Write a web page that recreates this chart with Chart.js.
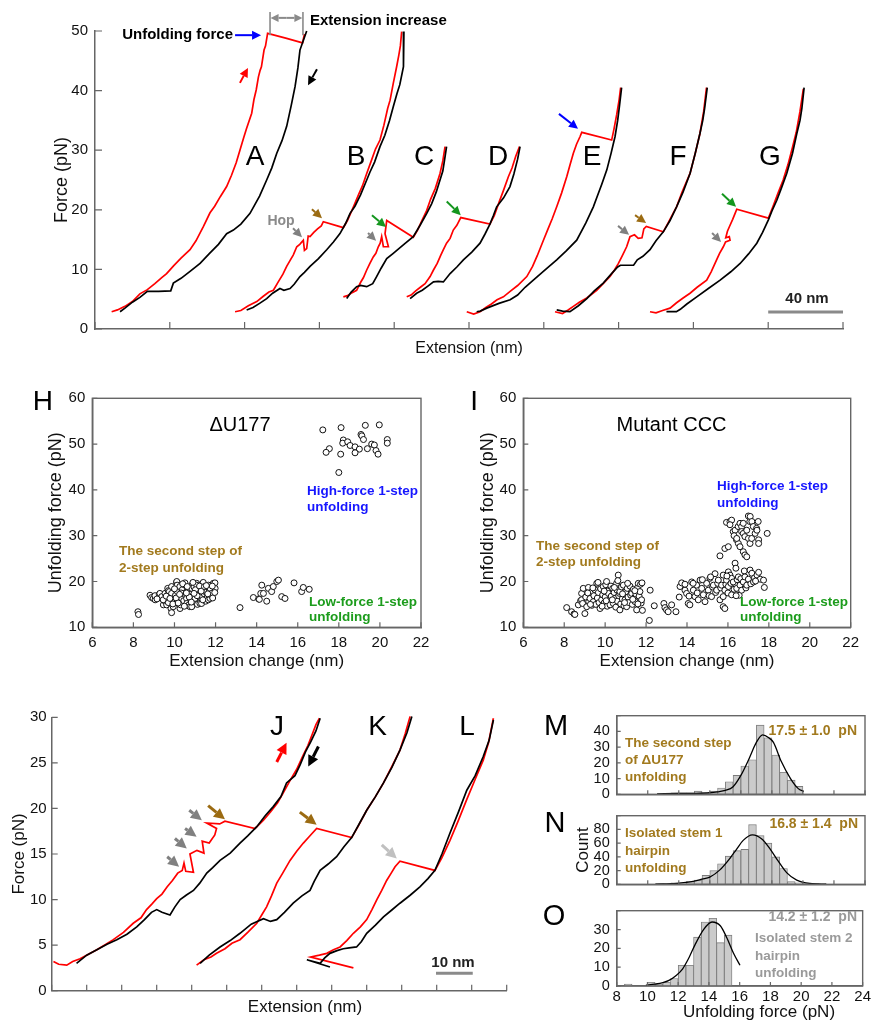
<!DOCTYPE html>
<html>
<head>
<meta charset="utf-8">
<script src="https://cdn.jsdelivr.net/npm/chart.js@4.4.1/dist/chart.umd.min.js"></script>
<style>
  body { margin: 0; background: #fff; width: 873px; height: 1024px; position: relative; overflow: hidden; }
  canvas { position: absolute; }
</style>
</head>
<body>
<canvas id="cTop" style="left:0;top:0" width="873" height="365"></canvas>
<canvas id="cH" style="left:0;top:380px" width="440" height="300"></canvas>
<canvas id="cI" style="left:440px;top:380px" width="433" height="300"></canvas>
<canvas id="cJ" style="left:0;top:700px" width="530" height="324"></canvas>
<canvas id="cM" style="left:530px;top:700px" width="343" height="110"></canvas>
<canvas id="cN" style="left:530px;top:800px" width="343" height="100"></canvas>
<canvas id="cO" style="left:530px;top:895px" width="343" height="129"></canvas>
<script>
// ---- force-extension traces, top panel (extension nm, force pN) ----
const redA = [[8.9,2.9],[12,3.2],[16,3.8],[20,4.6],[24,5.9],[28,6.6],[32,7.6],[36,8.7],[38.3,9.3],[42,10.6],[46,11.9],[50.8,13.3],[54,14.8],[58,17.2],[61.5,19.5],[64,20.6],[67,22.2],[70.4,23.9],[73,25.8],[75.5,27.9],[77.5,30.0],[79.5,32.1],[81,33.6],[83.8,36.2],[85,38.5],[86.2,40.1],[87.4,42.3],[88.3,43.4],[89,44.0],[90.4,46.8],[91.2,47.5],[92.3,49.6],[102,48.8],[111,48.0],[112,49.5]];
const blackA = [[113.2,50],[111.5,48.5],[109.6,46.8],[108.5,43.8],[107,40.7],[105,37.6],[102.5,34],[100,31.6],[97.2,29.5],[94.5,27],[91.8,25],[88,22.3],[82.9,19.4],[78,17.6],[74,16.6],[70.4,16.0],[66,14.2],[61,12.6],[56.2,11.0],[51,9.7],[46,8.5],[41.9,7.7],[40.5,6.4],[34,6.3],[28,6.3],[24,5.3],[20,4.5],[16,3.5],[13.4,2.9]];
const redB = [[74.9,2.9],[78,3.1],[82,3.9],[86.5,4.6],[90,5.5],[93,6.2],[95.4,6.5],[98,7.9],[100.5,9.2],[102.5,10.5],[104.5,11.6],[106,12.4],[107.9,13.8],[109.5,14.2],[111.4,14.9],[112,13.2],[113.2,13.5],[114,15.6],[115,15.5],[117,16.2],[119,16.8],[121,17.3],[122.1,18.0],[132.8,17.0],[135,18.2],[138.2,20.5],[141,22.6],[143,24.0],[145.3,26.1],[147.5,28],[150,30.2],[152.4,31.7],[154.5,34.2],[156.5,37],[157.8,38.4],[159.5,41.2],[161.3,44.0],[162.5,46],[163.3,47.5],[164,49.9]];
const blackB = [[165.2,49.9],[165,47.5],[164.9,44],[163,41],[161.5,39.5],[159.5,37.3],[157.5,35],[155,32.5],[152.4,30.6],[149.5,28.0],[147,26.3],[145.3,25.0],[142,22.5],[139,20.6],[136.4,19.4],[134,17.7],[131,16.0],[127.5,14.6],[123.9,13.3],[119.5,11.8],[115,10.5],[112,9.5],[109.6,8.8],[106.5,7.5],[104.3,6.8],[101,6.5],[98.9,6.8],[95,6.0],[91.8,5.1],[88,4.3],[84.5,3.6],[81.1,3.2]];
const redC = [[132.8,5.4],[135,5.6],[137.5,6.1],[139.9,6.5],[142,7.8],[143.5,8.6],[145.3,9.9],[147,11.0],[148.8,12.1],[150.2,12.7],[151.5,13.8],[152.5,14.4],[153.3,15.5],[154.2,13.8],[156.9,13.8],[155.1,16.0],[156,18.2],[170.2,15.4],[172.5,16.6],[175,18.3],[177.4,19.9],[179.5,21.8],[182,23.6],[184.5,26.1],[186,28.2],[187.2,30.6]];
const blackC = [[188,30.6],[187,28.5],[186,26.5],[184.5,25],[182.5,23],[180,21],[177.4,19.4],[174,17.5],[170.2,15.5],[166,14.4],[162.5,13.5],[159.5,12.7],[156,11.8],[153,10.2],[150.6,8.8],[148.5,7.6],[145.3,7.1],[142,7.3],[139.9,7.1],[137,6.2],[134.6,5.1]];
const redD = [[166.7,5.4],[169,5.7],[171.5,6.4],[174,7.0],[176.5,7.6],[179.2,8.8],[181,9.9],[183,11.0],[184.8,12.3],[186.3,13.3],[188,14.4],[189.9,15.2],[191.6,16.6],[193.5,17.4],[195.6,18.7],[211.2,17.6],[213.5,19.0],[216,21.2],[218.5,23.3],[221,25.5],[223,27.0],[225,29.0],[227,30.6]];
const blackD = [[227.3,30.6],[226,28.5],[224,26.0],[221.9,23.9],[218.5,22.0],[214.8,20.5],[213,19.0],[211.2,17.6],[208.5,15.9],[205.9,14.4],[201.5,12.9],[197,11.6],[193.5,10.4],[189.9,9.3],[186.3,7.9],[183.5,8.0],[181,7.9],[178,7.2],[175,6.5],[172,6.0],[168.5,5.1]];
const redE = [[198.8,2.9],[202.5,2.5],[205.9,2.9],[209,3.6],[212,4.2],[215,4.9],[218.4,5.4],[222,6.3],[226,7.3],[230.9,8.8],[234,10.5],[236.5,12.3],[239.8,14.9],[242,16.6],[244.5,18.5],[246.9,20.5],[249.5,22.8],[252.3,25.6],[254,27.5],[255.8,29.5],[257.5,31.0],[259.4,32.3],[260.3,33.0],[276.3,31.7],[277.5,33.5],[279,36],[280.3,38.5],[281.1,40.5]];
const blackE = [[281.6,40.5],[280.5,37.5],[279.5,35],[278.1,32.3],[276,29.5],[273.7,26.7],[271,24.3],[268.5,22.2],[266.5,20.5],[262.5,17.8],[257.6,14.9],[252,13.1],[246.9,11.6],[241,10.0],[234.4,8.2],[230,7.0],[226,5.7],[222,4.9],[216,4.3],[209.5,3.5],[206,3.0],[204.1,2.9]];
const redF = [[246,2.9],[250,2.6],[253,3.2],[255.8,3.8],[259,4.5],[263,5.2],[268.3,6.5],[272,7.7],[275.4,8.8],[277.8,9.9],[279.9,11.0],[282,12.3],[284.3,13.8],[286.1,15.5],[288.5,15.8],[290.5,15.2],[292.5,15.3],[293.5,16.8],[294.8,17.2],[303.9,16.3],[306.5,17.8],[309,19.3],[311,20.5],[314,23],[318.2,26.1],[321,29.5],[323.5,32.8],[325.5,36.5],[327,40.5]];
const blackF = [[327.4,40.5],[326,37],[325,35],[323.5,32.8],[321,29.5],[318.2,26.1],[314.5,23],[311,20.5],[307.5,18.2],[303.9,16.3],[300,14.8],[296.8,13.3],[293,12.2],[290,11.6],[288,10.7],[281,10.7],[279.5,10.4],[276,9.2],[271.8,7.7],[267,6.4],[263,5.1],[258.5,3.9],[254,2.9],[250,3.0],[246.9,3.2]];
const redG = [[296.8,2.9],[300,2.7],[303.5,3.1],[307.5,3.5],[311,4.4],[314.5,5.2],[318.2,6.0],[322,7.0],[327.1,8.2],[329.5,9.6],[332.4,11.6],[334,12.7],[336,13.8],[337.2,14.6],[339.6,14.9],[339.2,15.5],[337.3,15.3],[338.2,16.4],[339.3,17.2],[341,18.4],[342.3,19.4],[343.2,20.1],[360.1,18.6],[362.5,20.5],[365,22.6],[368,25],[370.5,27.5],[373,30.5],[375,33],[377,36.5],[378.8,40.3]];
const blackG = [[379.2,40.5],[378,37],[377,35],[375.3,32.8],[373,29.5],[369.9,26.1],[367,23.6],[364.6,21.6],[362,19.8],[360.1,18.3],[357,16.2],[353.9,14.4],[349.5,12.6],[345,11.0],[340,9.6],[334.3,8.2],[328,6.8],[321.8,5.4],[316.5,4.2],[313,3.3],[310.9,2.9],[305.6,2.9]];

// ---- force-extension traces, bottom panel ----
const redJ = [[0.5,3.2],[2,2.9],[4.3,2.8],[6,3.2],[8.1,3.5],[10.5,4.0],[12.9,4.5],[15.5,5.1],[17.6,5.6],[20.5,6.4],[23.3,7.4],[25.5,8.0],[27.1,8.9],[28.6,9.5],[30,10.1],[31.5,10.6],[33,11.4],[34.5,12.1],[36,12.9],[37.3,13.2],[37.8,14.0],[38.3,13.1],[40.5,13.0],[39.5,15.0],[41.5,15.4],[43.5,15.1],[43,16.4],[45,16.2],[46.6,17.1],[47.1,17.8],[44.3,18.4],[48,18.3],[49.5,18.6],[58.1,17.8],[60.5,18.7],[62.5,19.6],[64.5,20.6],[66,21.6],[68,23.0],[70,24.3],[71.8,25.8],[73.2,26.9],[74.5,28.2],[75.5,29.2],[76.5,29.9]];
const blackJ = [[76.7,29.9],[75.5,28.5],[74,27.3],[72.5,26.2],[71,24.8],[69.5,23.6],[67.1,22.8],[65.5,21.3],[63.3,20.2],[61,19.2],[58.6,18.0],[56,17.0],[53.8,16.2],[51,15.1],[48.1,14.3],[46,13.5],[44.3,12.9],[42.3,11.8],[40.5,11.0],[38.5,10.5],[36.7,10.0],[35.2,9.2],[33.8,8.3],[31.5,8.6],[30,8.9],[28.5,8.6],[26.5,7.8],[24.3,7.0],[21.5,6.2],[18.6,5.6],[15.8,5.1],[12.9,4.5],[10,3.9],[7.1,3.0]];
const redK = [[41.4,2.8],[43.5,3.4],[45.5,3.7],[47.1,4.1],[49.5,4.6],[51.5,5.2],[53.8,5.6],[56,6.4],[58.6,7.4],[60,8.3],[61.4,9.2],[62.8,10.4],[64.3,11.8],[66,12.9],[68.1,14.3],[70,15.3],[71.9,16.2],[73.8,17.0],[75.7,17.8],[85.7,16.8],[87.5,18.0],[90,19.8],[92.5,21.3],[94.8,22.8],[97.2,24.6],[99.5,26.4],[101,28.2],[102.4,30.1]];
const blackK = [[102.9,30.1],[101.5,28.3],[99.5,26.4],[97.2,24.5],[94.8,22.8],[92.5,21.3],[90,19.8],[88,18.4],[85.7,16.8],[83.5,15.8],[81.4,14.7],[79,13.9],[76.7,13.2],[75,12.0],[73.8,11.0],[71.5,10.4],[69,9.6],[66.5,8.6],[64.3,7.8],[62.5,7.6],[60.5,7.9],[57,7.3],[53.8,6.3],[51,5.5],[48.1,4.8],[45,3.9],[42.4,3.0]];
const redL = [[86.2,2.5],[80,3.1],[74,3.7],[76.5,3.9],[78.6,4.1],[80.5,4.5],[82.4,4.8],[84.3,5.5],[86.2,6.3],[88.2,7.0],[90,7.8],[91.5,8.9],[92.9,10.0],[94.3,11.0],[95.7,12.1],[97,12.9],[98.1,13.6],[99.5,14.2],[109.5,13.2],[111.5,14.6],[113.8,16.5],[116,18.5],[118.6,21.0],[121,23.2],[123.3,25.3],[124.8,27.2],[126.2,29.9]];
const blackL = [[126.2,29.7],[125,27.5],[123.3,25.7],[121,23.6],[118.6,22.0],[116.2,19.6],[113.8,17.3],[111.5,15.0],[109.5,13.2],[107.5,12.3],[105.2,11.4],[102.5,10.5],[99.5,9.6],[97,8.8],[94.8,8.1],[92.5,7.2],[90,6.3],[88.5,5.4],[87.1,4.8],[85,4.7],[83.3,4.6],[81.5,4.4],[79.5,4.1],[78,3.6],[76.7,3.0],[72.9,3.4],[79.5,2.6]];

// ---- scatter H: deltaU177 (extension change nm, unfolding force pN) ----
const hSecondStep = [[8.22,13.4],[8.25,12.8],[8.81,17.0],[8.89,16.5],[8.97,16.3],[9.06,16.0],[9.05,16.9],[9.26,17.2],[9.29,17.4],[9.38,16.5],[9.38,16.7],[9.46,14.9],[9.54,15.7],[9.54,17.4],[9.62,14.9],[9.67,18.5],[9.70,18.0],[9.70,15.4],[9.75,17.8],[9.83,14.1],[9.86,13.2],[9.86,17.4],[9.86,18.9],[9.94,14.5],[9.98,16.0],[10.02,15.6],[10.05,17.0],[10.10,19.8],[10.11,20.0],[10.13,19.2],[10.14,17.8],[10.20,16.6],[10.26,18.9],[10.27,14.1],[10.30,14.9],[10.35,16.3],[10.38,18.2],[10.43,17.4],[10.45,15.8],[10.51,19.2],[10.51,19.7],[10.55,16.9],[10.59,16.3],[10.60,17.8],[10.60,15.2],[10.67,18.5],[10.70,14.9],[10.75,14.5],[10.78,17.2],[10.84,19.2],[10.84,18.5],[10.84,14.5],[10.88,16.1],[10.92,17.0],[10.95,18.8],[11.00,15.6],[11.00,16.3],[11.05,17.7],[11.08,19.6],[11.08,19.2],[11.12,15.0],[11.16,18.1],[11.20,17.1],[11.24,15.2],[11.28,16.4],[11.32,16.7],[11.32,15.2],[11.36,18.6],[11.41,19.4],[11.40,19.8],[11.45,17.3],[11.49,17.8],[11.52,15.7],[11.57,17.8],[11.60,16.6],[11.65,16.0],[11.65,19.2],[11.70,18.1],[11.73,18.5],[11.73,16.3],[11.78,17.0],[11.81,17.4],[11.86,16.4],[11.89,19.6],[11.92,18.9],[11.97,19.7],[11.98,18.5],[11.96,17.6],[9.15,16.2],[9.45,16.0],[9.60,16.8],[9.78,16.3],[9.92,15.1],[10.00,18.4],[10.08,16.4],[10.18,15.3],[10.32,17.5],[10.40,19.5],[10.48,14.6],[10.62,18.9],[10.72,16.6],[10.82,15.5],[10.90,19.8],[11.02,18.2],[11.10,16.9],[11.22,19.0],[11.30,17.9],[11.38,16.0],[11.46,18.9],[11.55,19.1],[11.62,17.3],[11.84,19.0],[10.25,17.2],[10.58,17.5],[10.95,17.4]];
const hLowForce = [[13.19,14.3],[13.84,16.5],[14.10,16.2],[14.13,16.1],[14.20,17.4],[14.25,19.2],[14.33,17.4],[14.49,15.7],[14.57,18.5],[14.73,17.8],[14.81,18.9],[14.98,20.0],[15.06,20.3],[15.22,16.7],[15.38,16.3],[15.82,19.7],[16.19,17.8],[16.27,18.7],[16.56,18.3]];
const hHighForce = [[17.22,53.1],[18.11,53.6],[19.29,54.1],[19.97,54.2],[19.08,52.1],[19.12,51.8],[19.20,51.0],[18.22,50.9],[18.19,50.2],[18.43,50.5],[18.55,49.7],[18.79,49.4],[19.00,48.9],[18.79,48.1],[18.09,47.8],[17.54,49.0],[17.38,48.2],[19.39,49.0],[19.60,50.0],[19.73,49.8],[19.81,48.6],[19.91,47.8],[20.36,51.0],[20.36,50.2],[18.00,43.8]];

// ---- scatter I: mutant CCC ----
const iSecondStep = [[8.12,14.3],[8.36,13.4],[8.48,12.9],[8.52,12.8],[8.69,14.9],[8.80,15.8],[8.85,16.0],[8.85,17.4],[8.93,18.5],[8.90,15.2],[9.01,13.0],[9.05,16.6],[9.10,14.5],[9.18,18.7],[9.20,15.6],[9.26,16.3],[9.30,17.6],[9.35,14.8],[9.42,15.6],[9.45,16.9],[9.50,18.2],[9.55,15.0],[9.59,19.6],[9.62,16.4],[9.67,17.6],[9.70,15.4],[9.75,14.1],[9.78,18.4],[9.83,16.0],[9.88,17.1],[9.91,18.9],[9.95,15.3],[10.00,16.6],[10.03,19.3],[10.07,20.0],[10.10,14.6],[10.12,17.9],[10.16,17.4],[10.20,15.9],[10.24,14.9],[10.28,19.0],[10.30,16.8],[10.37,18.5],[10.40,15.2],[10.44,17.6],[10.48,16.3],[10.52,14.4],[10.56,19.6],[10.58,18.1],[10.60,15.7],[10.64,21.4],[10.66,16.9],[10.70,17.4],[10.72,13.8],[10.72,17.8],[10.76,15.1],[10.80,18.8],[10.84,16.2],[10.89,19.2],[10.92,14.7],[10.97,16.0],[11.00,17.7],[11.05,14.5],[11.08,18.5],[11.12,16.6],[11.16,15.4],[11.21,19.0],[11.25,17.0],[11.30,17.4],[11.33,15.0],[11.38,18.3],[11.42,16.4],[11.46,15.6],[11.50,17.3],[11.54,13.8],[11.58,18.6],[11.62,19.6],[11.66,16.8],[11.70,17.8],[11.73,19.4],[11.76,15.3],[11.78,16.0],[11.82,13.7],[11.80,19.7],[9.15,17.5],[9.40,18.6],[9.65,19.8],[9.85,14.6],[10.05,15.8],[10.35,16.0],[10.62,20.2],[10.85,17.3],[11.10,19.6],[11.35,16.1],[11.60,15.1],[9.28,15.0],[9.95,17.9],[10.45,18.7],[10.95,15.4],[11.45,18.0],[12.16,11.5],[12.20,18.1],[12.40,14.7],[12.87,15.2],[12.92,14.3],[13.00,13.8],[13.08,13.4],[13.25,14.9],[13.46,13.4]];
const iLowForce = [[13.62,16.6],[13.66,18.9],[13.74,19.7],[13.90,18.1],[13.98,17.4],[13.90,19.4],[14.06,15.2],[14.14,14.9],[14.10,16.8],[14.23,19.9],[14.31,18.1],[14.39,16.7],[14.47,19.2],[14.50,17.5],[14.55,16.0],[14.64,20.3],[14.72,18.5],[14.80,17.1],[14.88,15.6],[14.96,19.6],[15.04,18.1],[15.08,16.9],[15.12,20.7],[15.20,16.7],[15.25,18.8],[15.29,19.2],[15.37,21.7],[15.40,17.6],[15.45,18.1],[15.50,19.6],[15.53,20.3],[15.61,16.0],[15.65,18.6],[15.69,19.2],[15.77,21.4],[15.77,14.5],[15.77,16.7],[15.85,18.1],[15.85,14.1],[15.90,19.4],[15.93,20.3],[16.00,17.5],[16.02,18.9],[16.02,22.1],[16.10,21.4],[16.15,19.6],[16.18,17.1],[16.18,20.7],[16.26,19.9],[16.30,18.3],[16.35,24.0],[16.39,22.9],[16.43,18.5],[16.45,20.4],[16.51,21.0],[16.55,17.0],[16.59,19.2],[16.63,20.6],[16.67,18.1],[16.75,19.9],[16.80,22.3],[16.83,21.0],[16.88,18.6],[16.92,19.2],[17.00,20.5],[17.08,22.5],[17.12,19.5],[17.17,21.8],[17.25,19.9],[17.30,20.8],[17.42,21.4],[17.50,22.0],[17.58,20.5],[17.74,20.3],[17.78,18.7],[16.40,16.9],[15.15,21.0],[14.75,20.4],[14.30,19.6],[15.95,21.2],[17.35,20.1]];
const iHighForce = [[15.61,25.6],[15.85,27.2],[16.02,27.6],[15.93,32.9],[16.10,33.1],[16.18,33.4],[16.26,30.9],[16.35,31.2],[16.42,29.1],[16.50,32.0],[16.51,28.3],[16.59,32.7],[16.59,27.6],[16.67,32.0],[16.67,30.9],[16.75,32.7],[16.75,26.5],[16.75,30.5],[16.83,29.8],[16.83,25.8],[16.92,31.2],[16.92,25.4],[17.00,34.3],[17.00,29.4],[17.07,33.1],[17.09,34.2],[17.08,28.3],[17.16,29.4],[17.17,33.1],[17.24,32.0],[17.33,30.5],[17.40,31.6],[17.42,31.2],[17.48,33.1],[17.50,29.1],[17.50,28.3],[17.92,30.5],[16.10,32.4],[16.30,30.0],[16.43,29.4]];

// ---- histograms (bin start pN, counts) and drawn fit curves ----
const mBins = [11.5,12,12.5,13,13.5,14,14.5,15,15.5,16,16.5,17,17.5,18,18.5,19,19.5];
const mCounts = [1,1,1,2,1,2,4,8,12,18,22,44,36,25,14,9,5];
const mFit = [[10.6,0.3],[12,0.5],[13,0.6],[14,1],[14.5,1.6],[15,2.5],[15.5,4.8],[16,12],[16.5,22],[17,33],[17.4,37.8],[17.8,36],[18.1,33],[18.6,21],[19.2,10],[19.7,3.6],[20.06,1.8]];
const nBins = [10.5,11,11.5,12,12.5,13,13.5,14,14.5,15,15.5,16,16.5,17,17.5,18,18.5,19,19.5,20,20.5,21];
const nCounts = [1,1,2,2,4,6,13,20,30,41,49,51,87,71,60,40,23,4,2,1,1,1];
const nFit = [[10.5,0.3],[11.5,0.8],[12.5,3],[13,4.5],[13.5,7.5],[14,10.5],[14.65,21],[15.3,38],[15.72,51],[16.15,64],[16.75,72],[17.35,66],[17.9,51],[18.4,34],[18.95,17],[19.6,6],[20.45,1.2],[21.5,0.2]];
const oBins = [8.5,9,9.5,10,10.5,11,11.5,12,12.5,13,13.5,14,14.5,15];
const oCounts = [1,0,0,2,1,2,4,11,11,26,34,36,23,27];
const oFit = [[9.9,0.4],[10.5,1],[11,1.8],[11.4,3],[11.85,5.5],[12.28,9],[12.7,15],[13.1,22],[13.65,30],[14.2,34],[14.74,32],[15.17,25.5],[15.6,17.4],[16.02,11]];

// arrows: tailX, tailY, tipX, tipY (data units), colour
const topArrows = [
  [74.9,49.3,88.8,49.3,'#0000ff'],
  [77.5,41.3,81.8,43.8,'#ff0000'],
  [118.7,43.6,113.9,40.9,'#000000'],
  [105.9,16.9,110.7,15.4,'#808080'],
  [116,20.1,121.4,18.6,'#9b6b12'],
  [148.1,19.1,155.6,17.1,'#14961e'],
  [146,16.1,150.3,14.8,'#808080'],
  [188.1,21.4,195.6,19.1,'#14961e'],
  [248.1,36.1,258.3,33.6,'#0000ff'],
  [279.7,17.3,285.6,15.8,'#808080'],
  [288.8,19.1,294.7,17.8,'#9b6b12'],
  [335.3,22.7,342.8,20.5,'#14961e'],
  [330,16.1,334.8,14.6,'#808080']
];
const bottomArrows = [
  [64.3,25.1,67.1,27.2,'#ff0000'],
  [76.2,26.8,73.3,24.6,'#000000'],
  [39.3,19.8,42.9,18.7,'#808080'],
  [38.1,17.8,41.4,16.9,'#808080'],
  [35.2,16.7,38.6,15.6,'#808080'],
  [33.0,14.7,36.4,13.6,'#808080'],
  [44.7,20.3,49.5,18.8,'#9b6b12'],
  [70.9,19.6,75.7,18.2,'#9b6b12'],
  [94.3,16.0,98.6,14.5,'#c0c0c0']
];

const AXIS = '#666';
const FONT = '"Liberation Sans", Arial, Helvetica, sans-serif';
const BROWN = '#a27a1e';
const GREEN = '#1c9c1c';
const BLUE = '#1616ff';
const f = (s, b) => (b ? 'bold ' : '') + s + 'px ' + FONT;

Chart.defaults.font.family = FONT;
Chart.defaults.color = '#111';
Chart.defaults.animation = false;
Chart.defaults.plugins.legend.display = false;
Chart.defaults.plugins.tooltip.enabled = false;

function drawArrow(ctx, x1, y1, x2, y2, color, lw, head) {
  const ang = Math.atan2(y2 - y1, x2 - x1);
  const bx = x2 - head * Math.cos(ang), by = y2 - head * Math.sin(ang);
  const w = head * 0.5;
  ctx.strokeStyle = color; ctx.fillStyle = color; ctx.lineWidth = lw;
  ctx.beginPath(); ctx.moveTo(x1, y1); ctx.lineTo(bx, by); ctx.stroke();
  ctx.beginPath(); ctx.moveTo(x2, y2);
  ctx.lineTo(bx + w * Math.sin(ang), by - w * Math.cos(ang));
  ctx.lineTo(bx - w * Math.sin(ang), by + w * Math.cos(ang));
  ctx.closePath(); ctx.fill();
}

// ticks pointing inward, box, arrows, scale bars and free text
const extras = {
  id: 'extras',
  afterDraw(chart, args, o) {
    if (!o || !o.on) return;
    const ctx = chart.ctx, a = chart.chartArea, sx = chart.scales.x, sy = chart.scales.y;
    const ox = o.ox || 0, oy = o.oy || 0;
    ctx.save();
    ctx.strokeStyle = AXIS;
    if (o.box) { ctx.lineWidth = 1.4; ctx.strokeRect(a.left, a.top, a.right - a.left, a.bottom - a.top); }
    const tl = o.tick || 6;
    ctx.lineWidth = 1.2;
    ctx.beginPath();
    sx.ticks.forEach(t => { const p = sx.getPixelForValue(t.value); ctx.moveTo(p, a.bottom); ctx.lineTo(p, a.bottom - tl); });
    sy.ticks.forEach(t => { const p = sy.getPixelForValue(t.value); ctx.moveTo(a.left, p); ctx.lineTo(a.left + tl, p); });
    ctx.stroke();
    (o.segs || []).forEach(s => {
      ctx.strokeStyle = s[4]; ctx.lineWidth = s[5];
      ctx.beginPath();
      ctx.moveTo(sx.getPixelForValue(s[0]), sy.getPixelForValue(s[1]));
      ctx.lineTo(sx.getPixelForValue(s[2]), sy.getPixelForValue(s[3]));
      ctx.stroke();
    });
    (o.arrows || []).forEach(r => drawArrow(ctx,
      sx.getPixelForValue(r[0]), sy.getPixelForValue(r[1]),
      sx.getPixelForValue(r[2]), sy.getPixelForValue(r[3]), r[4], o.alw || 2, o.ahead || 9));
    (o.texts || []).forEach(t => {
      ctx.font = t.f; ctx.fillStyle = t.c || '#000';
      ctx.textAlign = t.a || 'left'; ctx.textBaseline = 'middle';
      ctx.fillText(t.s, t.x - ox, t.y - oy);
    });
    ctx.restore();
  }
};
Chart.register(extras);

function axis(min, max, step, size, fit, extra) {
  const e = extra || {};
  const ticks = Object.assign({ stepSize: step, color: '#111', font: { size: size }, padding: 7, autoSkip: false, maxRotation: 0 }, e.ticks || {});
  return Object.assign({
    type: 'linear', min: min, max: max,
    grid: { display: false, drawTicks: false },
    border: { display: true, color: AXIS, width: 1.5 },
    afterFit: fit
  }, e, { ticks: ticks });
}
const pts = arr => arr.map(p => ({ x: p[0], y: p[1] }));
const trace = (arr, color) => ({ data: pts(arr), showLine: true, borderColor: color, borderWidth: 1.7, pointRadius: 0, tension: 0, clip: false });
const dots = arr => ({ data: pts(arr), pointRadius: 3, pointBorderWidth: 1, pointBackgroundColor: '#fff', pointBorderColor: '#111' });

// ---------- top panel A-G ----------
new Chart(document.getElementById('cTop'), {
  type: 'scatter',
  data: { datasets: [
    trace(blackA,'#000'), trace(redA,'#ff0000'), trace(blackB,'#000'), trace(redB,'#ff0000'),
    trace(blackC,'#000'), trace(redC,'#ff0000'), trace(blackD,'#000'), trace(redD,'#ff0000'),
    trace(blackE,'#000'), trace(redE,'#ff0000'), trace(blackF,'#000'), trace(redF,'#ff0000'),
    trace(blackG,'#000'), trace(redG,'#ff0000')
  ] },
  options: {
    responsive: false,
    layout: { padding: { left: 0, top: 31, right: 30, bottom: 0 } },
    scales: {
      x: axis(0, 400, 40, 15, s => { s.height = 36; }, {
        ticks: { callback: () => '' },
        title: { display: true, text: 'Extension (nm)', font: { size: 16 }, color: '#111', padding: { top: 0, bottom: 7 } }
      }),
      y: axis(0, 50, 10, 15, s => { s.width = 95; }, {
        title: { display: true, text: 'Force (pN)', font: { size: 18 }, color: '#111', padding: { top: 51, bottom: 0 } }
      })
    },
    plugins: { extras: {
      on: true, tick: 7, arrows: topArrows,
      segs: [
        [93.6,53.2,93.6,49.3,'#8a8a8a',1.6], [111.2,53.2,111.2,49.3,'#8a8a8a',1.6],
        [360,2.85,400,2.85,'#8a8a8a',3]
      ],
      texts: [
        { s: 'A', x: 255, y: 157, f: f(28), a: 'center' },
        { s: 'B', x: 356, y: 157, f: f(28), a: 'center' },
        { s: 'C', x: 424, y: 157, f: f(28), a: 'center' },
        { s: 'D', x: 498, y: 157, f: f(28), a: 'center' },
        { s: 'E', x: 592, y: 157, f: f(28), a: 'center' },
        { s: 'F', x: 678, y: 157, f: f(28), a: 'center' },
        { s: 'G', x: 770, y: 157, f: f(28), a: 'center' },
        { s: 'Unfolding force', x: 233, y: 35, f: f(15, true), a: 'right' },
        { s: 'Extension increase', x: 310, y: 21, f: f(15, true) },
        { s: 'Hop', x: 281, y: 221, f: f(14, true), c: '#8a8a8a', a: 'center' },
        { s: '40 nm', x: 807, y: 299, f: f(15, true), c: '#222', a: 'center' }
      ]
    } }
  },
  plugins: [{
    id: 'bracket',
    afterDraw(chart) {
      const sx = chart.scales.x, sy = chart.scales.y, ctx = chart.ctx;
      const y = sy.getPixelForValue(52.2);
      ctx.save();
      drawArrow(ctx, sx.getPixelForValue(102.4), y, sx.getPixelForValue(93.9), y, '#8a8a8a', 2, 8);
      drawArrow(ctx, sx.getPixelForValue(102.4), y, sx.getPixelForValue(110.9), y, '#8a8a8a', 2, 8);
      ctx.restore();
    }
  }]
});

// ---------- scatter panels H and I ----------
function scatterChart(id, sets, yW, padR, ox, titlePad, texts) {
  new Chart(document.getElementById(id), {
    type: 'scatter',
    data: { datasets: sets.map(dots) },
    options: {
      responsive: false,
      layout: { padding: { left: 0, top: 18.3, right: padR, bottom: 0 } },
      scales: {
        x: axis(6, 22, 2, 15, s => { s.height = 52.7; }, {
          title: { display: true, text: 'Extension change (nm)', font: { size: 17 }, color: '#111', padding: { top: 0, bottom: 8 } }
        }),
        y: axis(10, 60, 10, 15, s => { s.width = yW; }, {
          title: { display: true, text: 'Unfolding force (pN)', font: { size: 18 }, color: '#111', padding: { top: titlePad, bottom: 0 } }
        })
      },
      plugins: { extras: { on: true, box: true, tick: 5, ox: ox, oy: 380, texts: texts } }
    }
  });
}
scatterChart('cH', [hSecondStep, hLowForce, hHighForce], 92.3, 19, 0, 45, [
  { s: 'H', x: 53, y: 402, f: f(28), a: 'right' },
  { s: '\u0394U177', x: 240, y: 425, f: f(20), a: 'center' },
  { s: 'High-force 1-step', x: 307, y: 491, f: f(13.5, true), c: BLUE },
  { s: 'unfolding', x: 307, y: 507, f: f(13.5, true), c: BLUE },
  { s: 'The second step of', x: 119, y: 551, f: f(13.5, true), c: BROWN },
  { s: '2-step unfolding', x: 119, y: 568, f: f(13.5, true), c: BROWN },
  { s: 'Low-force 1-step', x: 309, y: 602, f: f(13.5, true), c: GREEN },
  { s: 'unfolding', x: 309, y: 617, f: f(13.5, true), c: GREEN }
]);
scatterChart('cI', [iSecondStep, iLowForce, iHighForce], 83.3, 22.3, 440, 37.5, [
  { s: 'I', x: 478, y: 402, f: f(28), a: 'right' },
  { s: 'Mutant CCC', x: 671.5, y: 425, f: f(20), a: 'center' },
  { s: 'High-force 1-step', x: 717, y: 486, f: f(13.5, true), c: BLUE },
  { s: 'unfolding', x: 717, y: 503, f: f(13.5, true), c: BLUE },
  { s: 'The second step of', x: 536, y: 546, f: f(13.5, true), c: BROWN },
  { s: '2-step unfolding', x: 536, y: 562, f: f(13.5, true), c: BROWN },
  { s: 'Low-force 1-step', x: 740, y: 602, f: f(13.5, true), c: GREEN },
  { s: 'unfolding', x: 740, y: 617, f: f(13.5, true), c: GREEN }
]);

// ---------- bottom panel J-L ----------
new Chart(document.getElementById('cJ'), {
  type: 'scatter',
  data: { datasets: [
    trace(blackJ,'#000'), trace(redJ,'#ff0000'), trace(blackK,'#000'), trace(redK,'#ff0000'),
    trace(blackL,'#000'), trace(redL,'#ff0000')
  ] },
  options: {
    responsive: false,
    layout: { padding: { left: 0, top: 17.3, right: 23.3, bottom: 0 } },
    scales: {
      x: axis(0, 130, 10, 15, s => { s.height = 33.3; }, { ticks: { callback: () => '' } }),
      y: axis(0, 30, 5, 15, s => { s.width = 51.7; }, {
        ticks: { padding: 5 },
        title: { display: true, text: 'Force (pN)', font: { size: 17 }, color: '#111', padding: { top: 8.8, bottom: 0 } }
      })
    },
    plugins: { extras: {
      on: true, tick: 6, oy: 700, arrows: bottomArrows, alw: 3, ahead: 11,
      segs: [[109.8,1.91,120.3,1.91,'#8a8a8a',3]],
      texts: [
        { s: 'J', x: 277, y: 727, f: f(28), a: 'center' },
        { s: 'K', x: 377.5, y: 727, f: f(28), a: 'center' },
        { s: 'L', x: 467, y: 727, f: f(28), a: 'center' },
        { s: '10 nm', x: 453, y: 963, f: f(15, true), c: '#222', a: 'center' },
        { s: 'Extension (nm)', x: 305, y: 1007, f: f(17), c: '#111', a: 'center' }
      ]
    } }
  }
});

// ---------- histograms M, N, O ----------
function histChart(id, bins, counts, fit, ymax, ystep, padT, xH, oy, showX, yTitle, texts) {
  new Chart(document.getElementById(id), {
    type: 'bar',
    data: { datasets: [
      { type: 'line', data: pts(fit), borderColor: '#000', borderWidth: 1.3, pointRadius: 0, tension: 0.4, cubicInterpolationMode: 'monotone', order: 0 },
      { type: 'bar', data: bins.map((b, i) => ({ x: b + 0.25, y: counts[i] })), backgroundColor: '#cbcbcb', borderColor: '#7c7c7c', borderWidth: 0.9, borderSkipped: false, barPercentage: 1, categoryPercentage: 1, order: 1 }
    ] },
    options: {
      responsive: false,
      layout: { padding: { left: 0, top: padT, right: 8, bottom: 0 } },
      scales: {
        x: axis(8, 24, 2, 15, s => { s.height = xH; }, {
          offset: false,
          ticks: { padding: 2, callback: v => showX ? v : '' }
        }),
        y: axis(0, ymax, ystep, 14.5, s => { s.width = 86.7; }, {
          ticks: { callback: v => v === ymax ? '' : v },
          title: { display: !!yTitle, text: yTitle || '', font: { size: 17 }, color: '#111', padding: { top: 42.8, bottom: 0 } }
        })
      },
      plugins: { extras: { on: true, box: true, tick: 4, ox: 530, oy: oy, texts: texts } }
    }
  });
}
histChart('cM', mBins, mCounts, mFit, 50, 10, 15, 11, 700, false, null, [
  { s: 'M', x: 556, y: 727, f: f(29), a: 'center' },
  { s: '17.5 \u00b1 1.0  pN', x: 857, y: 731, f: f(14, true), c: BROWN, a: 'right' },
  { s: 'The second step', x: 625, y: 743, f: f(13.5, true), c: BROWN },
  { s: 'of \u0394U177', x: 625, y: 760, f: f(13.5, true), c: BROWN },
  { s: 'unfolding', x: 625, y: 777, f: f(13.5, true), c: BROWN }
]);
histChart('cN', nBins, nCounts, nFit, 100, 20, 7.3, 7.3, 800, false, 'Count', [
  { s: 'N', x: 555, y: 824, f: f(29), a: 'center' },
  { s: '16.8 \u00b1 1.4  pN', x: 858, y: 824, f: f(14, true), c: BROWN, a: 'right' },
  { s: 'Isolated stem 1', x: 625, y: 833, f: f(13.5, true), c: BROWN },
  { s: 'hairpin', x: 625, y: 851, f: f(13.5, true), c: BROWN },
  { s: 'unfolding', x: 625, y: 868, f: f(13.5, true), c: BROWN }
]);
histChart('cO', oBins, oCounts, oFit, 40, 10, 6.7, 38, 895, true, null, [
  { s: 'O', x: 554, y: 917, f: f(29), a: 'center' },
  { s: '14.2 \u00b1 1.2  pN', x: 857, y: 917, f: f(14, true), c: '#9a9a9a', a: 'right' },
  { s: 'Isolated stem 2', x: 755, y: 938, f: f(13.5, true), c: '#9a9a9a' },
  { s: 'hairpin', x: 755, y: 956, f: f(13.5, true), c: '#9a9a9a' },
  { s: 'unfolding', x: 755, y: 973, f: f(13.5, true), c: '#9a9a9a' },
  { s: 'Unfolding force (pN)', x: 759, y: 1012, f: f(17), c: '#111', a: 'center' }
]);
</script>
</body>
</html>
